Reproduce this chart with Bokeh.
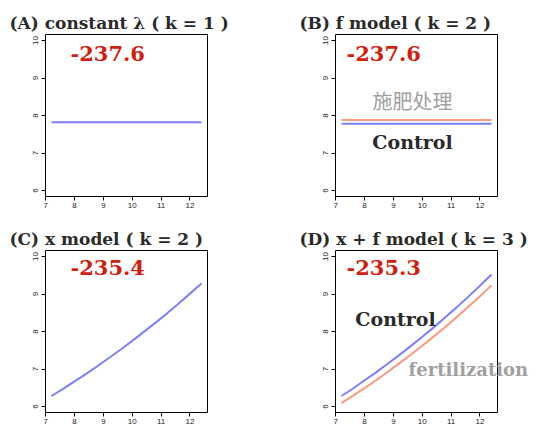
from bokeh.plotting import figure
from bokeh.models import Label, FixedTicker, Range1d, BoxAnnotation, Title
from bokeh.layouts import gridplot
from bokeh.embed import file_html
from bokeh.resources import INLINE

# ---- data ----
x_span = [7.2, 12.4]
a_const = [7.82, 7.82]
b_control = [7.78, 7.78]
b_fert = [7.88, 7.88]
x_curve = [7.2, 7.6, 8.0, 8.4, 8.8, 9.2, 9.6, 10.0, 10.4, 10.8, 11.2, 11.6, 12.0, 12.4]
c_fit = [6.28, 6.47, 6.67, 6.87, 7.08, 7.30, 7.52, 7.75, 7.99, 8.23, 8.48, 8.74, 9.01, 9.28]
d_control = [6.28, 6.48, 6.70, 6.91, 7.14, 7.37, 7.61, 7.86, 8.11, 8.38, 8.65, 8.93, 9.22, 9.52]
d_fert = [6.09, 6.29, 6.49, 6.70, 6.92, 7.15, 7.38, 7.62, 7.87, 8.12, 8.39, 8.66, 8.94, 9.23]
x_ticks = [7, 8, 9, 10, 11, 12]
y_ticks = [6, 7, 8, 9, 10]
loglik = ["-237.6", "-237.6", "-235.4", "-235.3"]
titles = ["(A) constant λ ( k = 1 )", "(B) f model ( k = 2 )",
          "(C) x model ( k = 2 )", "(D) x + f model ( k = 3 )"]

BLUE = "#7f7ff7"
ORANGE = "#fa9a7e"
RED = "#cc2211"
GRAY = "#a0a0a0"
DARK = "#2a2a2a"
SERIF = "DejaVu Serif"

# box (plot region) in data units, R style 4% expansion
BX = (7.2 - 0.208, 12.4 + 0.208)
BY = (6 - 0.16, 10 + 0.16)
BOX_PX = 162
SX = BOX_PX / (BX[1] - BX[0])   # px per x unit
SY = BOX_PX / (BY[1] - BY[0])   # px per y unit
PAD = 2                          # frame padding around box


def make_fig(left, right, top, bottom, extra_right, title):
    fw = PAD + BOX_PX + extra_right
    fh = PAD + BOX_PX + PAD
    p = figure(frame_width=fw, frame_height=fh,
               x_range=Range1d(BX[0] - PAD / SX, BX[1] + extra_right / SX),
               y_range=Range1d(BY[0] - PAD / SY, BY[1] + PAD / SY),
               output_backend="svg", toolbar_location=None,
               min_border_left=left, min_border_right=right,
               min_border_top=top, min_border_bottom=bottom,
               background_fill_color="white", border_fill_color="white")
    p.title = Title(text=title, align="left", offset=-34, standoff=0,
                    text_font=SERIF, text_font_style="bold",
                    text_font_size="17px", text_color=DARK)
    p.grid.visible = False
    p.outline_line_color = None
    for ax in (p.xaxis[0], p.yaxis[0]):
        ax.axis_line_color = None
        ax.major_tick_line_color = "black"
        ax.major_tick_out = 2
        ax.major_tick_in = PAD
        ax.minor_tick_line_color = None
        ax.major_label_text_font = "Liberation Sans"
        ax.major_label_text_font_size = "8px"
        ax.major_label_text_color = "#222222"
    p.xaxis.ticker = FixedTicker(ticks=x_ticks)
    p.yaxis.ticker = FixedTicker(ticks=y_ticks)
    p.xaxis.major_label_standoff = 2
    p.yaxis.major_label_standoff = 4
    p.yaxis.major_label_orientation = "vertical"
    p.add_layout(BoxAnnotation(left=BX[0], right=BX[1], bottom=BY[0], top=BY[1],
                               fill_color=None, fill_alpha=0,
                               line_color="black", line_width=1, line_alpha=1))
    return p


def add_text(p, text, dx, dy, font=SERIF, style="bold", size="19px",
             color=DARK, align="left"):
    # anchored at the top-left corner of the box, offsets in pixels
    p.add_layout(Label(x=BX[0], y=BY[1], x_offset=dx, y_offset=dy, text=text,
                       text_font=font, text_font_style=style,
                       text_font_size=size, text_color=color,
                       text_align=align, text_baseline="middle"))


pa = make_fig(43, 60, 32, 22, PAD, titles[0])
pb = make_fig(64, 0, 32, 22, 40, titles[1])
pc = make_fig(43, 60, 28, 0, PAD, titles[2])
pd = make_fig(64, 0, 28, 0, 40, titles[3])

# (A)
pa.line(x_span, a_const, line_color=BLUE, line_width=2)
add_text(pa, loglik[0], 25, -19, size="21px", color=RED)

# (B)
pb.line(x_span, b_fert, line_color=ORANGE, line_width=2)
pb.line(x_span, b_control, line_color=BLUE, line_width=2)
add_text(pb, loglik[1], 11, -19, size="21px", color=RED)
add_text(pb, "施肥处理", 77, -66, font="Noto Sans CJK SC", style="normal",
         size="20px", color=GRAY, align="center")
add_text(pb, "Control", 77, -107, color=DARK, align="center")

# (C)
pc.line(x_curve, c_fit, line_color=BLUE, line_width=2)
add_text(pc, loglik[2], 25, -17, size="21px", color=RED)

# (D)
pd.line(x_curve, d_fert, line_color=ORANGE, line_width=2)
pd.line(x_curve, d_control, line_color=BLUE, line_width=2)
add_text(pd, loglik[3], 11, -17, size="21px", color=RED)
add_text(pd, "Control", 60, -68, color=DARK, align="center")
add_text(pd, "fertilization", 73, -119, size="18px", color=GRAY)

grid = gridplot([[pa, pb], [pc, pd]], toolbar_location=None)

open("out.html", "w").write(file_html(grid, INLINE))
